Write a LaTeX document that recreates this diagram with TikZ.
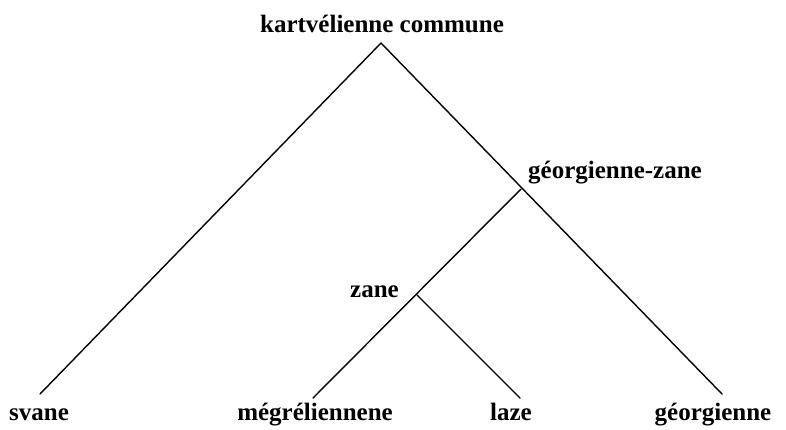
\documentclass[tikz,border=0pt]{standalone}
\usepackage{fontspec}
\setmainfont{Liberation Serif}
\begin{document}
\begin{tikzpicture}[x=1pt,y=-1pt,
  lbl/.style={font=\fontsize{25}{28}\selectfont\bfseries, inner sep=0pt, anchor=base},
  branch/.style={line width=1.4pt, line cap=round}]
\useasboundingbox (0,0) rectangle (786,429);
% junctions and leaf ends
\coordinate (top) at (381,43);
\coordinate (gz) at (521,189);
\coordinate (z) at (417,295);
\coordinate (sv) at (40,394);
\coordinate (ge) at (722,394);
\coordinate (me) at (313,398);
\coordinate (la) at (520,398);
% labels
\node[lbl] (lkc) at (382,32) {kartvélienne commune};
\node[lbl, anchor=base west] (lgz) at (528,178) {géorgienne-zane};
\node[lbl, anchor=base east] (lz) at (399,297) {zane};
\node[lbl] (lsv) at (39,420) {svane};
\node[lbl] (lme) at (315,420) {mégréliennene};
\node[lbl] (lla) at (511,420) {laze};
\node[lbl] (lge) at (713,420) {géorgienne};
% branches
\draw[branch] (sv) -- (top) -- (ge);
\draw[branch] (gz) -- (me);
\draw[branch] (z) -- (la);
\end{tikzpicture}
\end{document}
